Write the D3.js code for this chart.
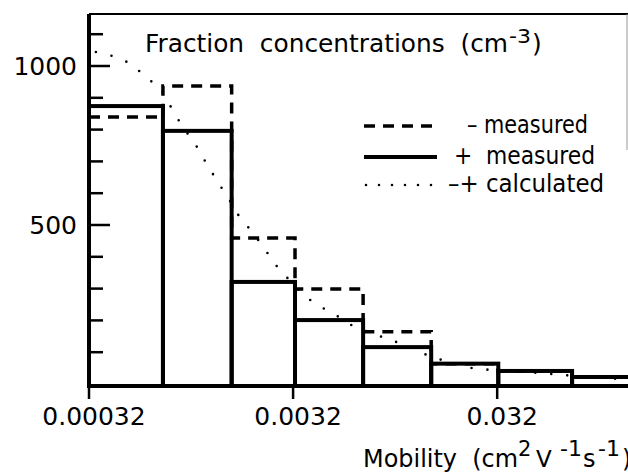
<!DOCTYPE html>
<html>
<head>
<meta charset="utf-8">
<script src="https://cdn.jsdelivr.net/npm/d3@7"></script>
<style>
  body { margin: 0; background: #fff; }
  text { font-family: "DejaVu Sans", sans-serif; fill: #000; white-space: pre; }
</style>
</head>
<body>
<div id="chart"></div>
<script>
// bin edges of the histogram (mobility, cm2 V-1 s-1)
var binEdges = [0.00032, 0.000737, 0.0016, 0.00327, 0.00705, 0.0152, 0.0324, 0.0745, 0.16];
// "+ measured" (solid) and "- measured" (dashed) fraction concentrations, cm-3
var plusMeasured  = [874, 796, 321, 201, 116, 64, 41, 22];
var minusMeasured = [840, 937, 459, 299, 164, 64, 41, 22];
// "-+ calculated" dotted curve
var calcMobility = [0.000346, 0.00042, 0.000508, 0.000602, 0.000721, 0.000807, 0.000915, 0.00106,
  0.0012, 0.00136, 0.00155, 0.00176, 0.00204, 0.00236, 0.0027, 0.00367, 0.00439, 0.00526, 0.0063,
  0.00924, 0.0113, 0.0137, 0.0164, 0.0241, 0.0299, 0.0449, 0.0675, 0.124];
var calcValue = [1044, 1031, 1009, 969, 925, 871, 811, 755, 695, 638, 582, 522, 475, 418, 365, 274,
  242, 214, 182, 142, 123, 97, 79, 50, 44, 38, 28, 16];

var xTicks = [0.00032, 0.0032, 0.032];
var xTickLabels = ["0.00032", "0.0032", "0.032"];
var yMinor = [100, 200, 300, 400, 600, 700, 800, 900, 1100];
var yMajor = [500, 1000];

var W = 628, H = 472;
var svg = d3.select("#chart").append("svg")
  .attr("width", W).attr("height", H);

var x = d3.scaleLog().domain([0.00032, 0.14]).range([89, 628]);
var y = d3.scaleLinear().domain([0, 1000]).range([384, 66]);

// frame top + faint right edge
svg.append("line").attr("x1", 89).attr("x2", 628).attr("y1", 14).attr("y2", 14)
  .attr("stroke", "#000").attr("stroke-width", 2);
svg.append("line").attr("x1", 627).attr("x2", 627).attr("y1", 14).attr("y2", 150)
  .attr("stroke", "#999").attr("stroke-width", 1);

var bins = plusMeasured.map(function(v, i) {
  return { x0: binEdges[i], x1: binEdges[i + 1], plus: v, minus: minusMeasured[i] };
});

// dashed step outline for "- measured"
var stepPts = [];
bins.forEach(function(b) {
  stepPts.push([x(b.x0), y(b.minus)]);
  stepPts.push([Math.min(x(b.x1), 640), y(b.minus)]);
});
svg.append("path")
  .attr("d", d3.line()(stepPts))
  .attr("fill", "none").attr("stroke", "#000").attr("stroke-width", 3.5)
  .attr("stroke-dasharray", "11,8");

// dotted calculated curve
var calcPts = calcMobility.map(function(m, i) { return [x(m), y(calcValue[i])]; });
svg.append("path")
  .attr("d", d3.line()(calcPts))
  .attr("fill", "none").attr("stroke", "#000").attr("stroke-width", 2.6)
  .attr("stroke-linecap", "round")
  .attr("stroke-dasharray", "0,16");

// solid bars for "+ measured"
svg.selectAll("rect.bar")
  .data(bins)
  .enter()
  .append("rect")
    .attr("class", "bar")
    .attr("x", function(d) { return x(d.x0); })
    .attr("y", function(d) { return y(d.plus); })
    .attr("width", function(d) { return x(d.x1) - x(d.x0); })
    .attr("height", function(d) { return y(0) - y(d.plus) + 2; })
    .attr("fill", "none")
    .attr("stroke", "#000")
    .attr("stroke-width", 4);

// axes
svg.append("line").attr("x1", 89).attr("x2", 89).attr("y1", 14).attr("y2", 388)
  .attr("stroke", "#000").attr("stroke-width", 4);
svg.append("line").attr("x1", 87).attr("x2", 630).attr("y1", 386).attr("y2", 386)
  .attr("stroke", "#000").attr("stroke-width", 4);

svg.selectAll("line.ymin").data(yMinor).enter().append("line")
  .attr("x1", 89).attr("x2", 103)
  .attr("y1", function(d) { return y(d); }).attr("y2", function(d) { return y(d); })
  .attr("stroke", "#000").attr("stroke-width", 2.5);
svg.selectAll("line.ymaj").data(yMajor).enter().append("line")
  .attr("x1", 87).attr("x2", 110)
  .attr("y1", function(d) { return y(d); }).attr("y2", function(d) { return y(d); })
  .attr("stroke", "#000").attr("stroke-width", 2.5);
svg.selectAll("text.ylab").data(yMajor).enter().append("text")
  .attr("x", 77).attr("y", function(d) { return y(d) + 9; })
  .attr("text-anchor", "end").attr("font-size", 25)
  .text(function(d) { return d; });

svg.selectAll("line.xt").data(xTicks).enter().append("line")
  .attr("x1", function(d) { return x(d); }).attr("x2", function(d) { return x(d); })
  .attr("y1", 386).attr("y2", 399)
  .attr("stroke", "#000").attr("stroke-width", 2.5);
svg.selectAll("text.xlab").data(xTicks).enter().append("text")
  .attr("x", function(d) { return x(d) + 5; }).attr("y", 425)
  .attr("text-anchor", "middle").attr("font-size", 25)
  .text(function(d, i) { return xTickLabels[i]; });

// title
svg.append("text").attr("x", 145).attr("y", 52).attr("font-size", 25)
  .attr("textLength", 363).attr("lengthAdjust", "spacingAndGlyphs")
  .text("Fraction  concentrations  (cm");
svg.append("text").attr("x", 509).attr("y", 43).attr("font-size", 20)
  .attr("textLength", 22).attr("lengthAdjust", "spacingAndGlyphs").text("-3");
svg.append("text").attr("x", 532).attr("y", 52).attr("font-size", 25).text(")");

// legend
var legY = [126, 157, 185];
var legText = ["\u2013 measured", "+  measured", "\u2013+ calculated"];
var legX = [467, 454, 448];
var legLen = [121, 141, 156];
svg.append("line").attr("x1", 364).attr("x2", 437).attr("y1", legY[0]).attr("y2", legY[0])
  .attr("stroke", "#000").attr("stroke-width", 3.5).attr("stroke-dasharray", "11,8");
svg.append("line").attr("x1", 364).attr("x2", 437).attr("y1", legY[1]).attr("y2", legY[1])
  .attr("stroke", "#000").attr("stroke-width", 4);
svg.append("line").attr("x1", 366).attr("x2", 432).attr("y1", legY[2]).attr("y2", legY[2])
  .attr("stroke", "#000").attr("stroke-width", 2.6).attr("stroke-linecap", "round")
  .attr("stroke-dasharray", "0,13");
legText.forEach(function(t, i) {
  svg.append("text").attr("x", legX[i]).attr("y", legY[i] + 7).attr("font-size", 25)
    .attr("textLength", legLen[i]).attr("lengthAdjust", "spacingAndGlyphs")
    .text(t);
});

// x axis title
svg.append("text").attr("x", 363).attr("y", 467).attr("font-size", 24)
  .attr("textLength", 155).attr("lengthAdjust", "spacingAndGlyphs").text("Mobility  (cm");
svg.append("text").attr("x", 518).attr("y", 456).attr("font-size", 21).text("2");
svg.append("text").attr("x", 536).attr("y", 467).attr("font-size", 23).text("V");
svg.append("text").attr("x", 560).attr("y", 456).attr("font-size", 21)
  .attr("textLength", 22).attr("lengthAdjust", "spacingAndGlyphs").text("-1");
svg.append("text").attr("x", 583).attr("y", 467).attr("font-size", 24).text("s");
svg.append("text").attr("x", 598).attr("y", 456).attr("font-size", 21)
  .attr("textLength", 22).attr("lengthAdjust", "spacingAndGlyphs").text("-1");
svg.append("text").attr("x", 622).attr("y", 467).attr("font-size", 24).text(")");
</script>
</body>
</html>
